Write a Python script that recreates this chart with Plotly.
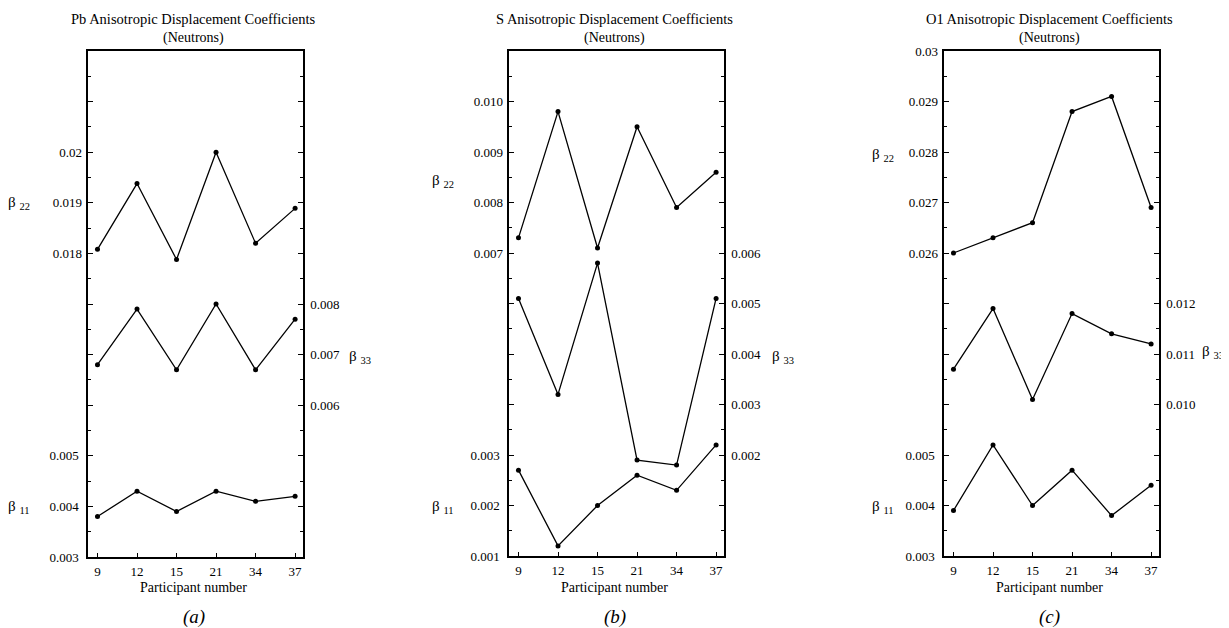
import plotly.graph_objects as go

participants = ["9", "12", "15", "21", "34", "37"]

# (a) Pb
pb_b22 = [0.01808, 0.01938, 0.01788, 0.0200, 0.0182, 0.01889]
pb_b33 = [0.0068, 0.0079, 0.0067, 0.0080, 0.0067, 0.0077]
pb_b11 = [0.0038, 0.0043, 0.0039, 0.0043, 0.0041, 0.0042]
# (b) S
s_b22 = [0.0073, 0.0098, 0.0071, 0.0095, 0.0079, 0.0086]
s_b33 = [0.0051, 0.0032, 0.0058, 0.0019, 0.0018, 0.0051]
s_b11 = [0.0027, 0.0012, 0.0020, 0.0026, 0.0023, 0.0032]
# (c) O1
o1_b22 = [0.0260, 0.0263, 0.0266, 0.0288, 0.0291, 0.0269]
o1_b33 = [0.0107, 0.0119, 0.0101, 0.0118, 0.0114, 0.0112]
o1_b11 = [0.0039, 0.0052, 0.0040, 0.0047, 0.0038, 0.0044]

# tick labels
pb_low_vals, pb_low_text = [0.003, 0.004, 0.005], ["0.003", "0.004", "0.005"]
pb_high_vals, pb_high_text = [0.018, 0.019, 0.020], ["0.018", "0.019", "0.02"]
pb_right_vals, pb_right_text = [0.006, 0.007, 0.008], ["0.006", "0.007", "0.008"]
s_low_vals, s_low_text = [0.001, 0.002, 0.003], ["0.001", "0.002", "0.003"]
s_high_vals, s_high_text = [0.007, 0.008, 0.009, 0.010], ["0.007", "0.008", "0.009", "0.010"]
s_right_vals, s_right_text = [0.002, 0.003, 0.004, 0.005, 0.006], ["0.002", "0.003", "0.004", "0.005", "0.006"]
o1_low_vals, o1_low_text = [0.003, 0.004, 0.005], ["0.003", "0.004", "0.005"]
o1_high_vals, o1_high_text = [0.026, 0.027, 0.028, 0.029, 0.030], ["0.026", "0.027", "0.028", "0.029", "0.03"]
o1_right_vals, o1_right_text = [0.010, 0.011, 0.012], ["0.010", "0.011", "0.012"]

titles = ["Pb Anisotropic Displacement Coefficients",
          "S Anisotropic Displacement Coefficients",
          "O1 Anisotropic Displacement Coefficients"]
panel_letters = ["(a)", "(b)", "(c)"]

OFF = 8  # page body margin
W, H = 1229 - OFF, 628 - OFF
FONT = "Liberation Serif"

panels = [
    dict(data=(pb_b11, pb_b22, pb_b33), x0=88, x1=303, y0=51, y1=557,
         low=(0.003, pb_low_vals, pb_low_text), high=(0.012, pb_high_vals, pb_high_text),
         right=(0.003, pb_right_vals, pb_right_text), b22y=203, b11y=507, b33x=360, b33y=357, b22x=19),
    dict(data=(s_b11, s_b22, s_b33), x0=509, x1=724, y0=51, y1=556,
         low=(0.001, s_low_vals, s_low_text), high=(0.001, s_high_vals, s_high_text),
         right=(0.000, s_right_vals, s_right_text), b22y=181, b11y=507, b33x=783, b33y=357, b22x=443),
    dict(data=(o1_b11, o1_b22, o1_b33), x0=944, x1=1159, y0=51, y1=556,
         low=(0.003, o1_low_vals, o1_low_text), high=(0.020, o1_high_vals, o1_high_text),
         right=(0.007, o1_right_vals, o1_right_text), b22y=155, b11y=507, b33x=1213, b33y=352, b22x=883),
]

def px(x):
    return (x - OFF) / W

def py(y):
    return 1 - (y - OFF) / H

fig = go.Figure()
layout = {}
annotations = []
tickfont = dict(family=FONT, size=13, color="black")

def full_ticks(r0, vals, texts):
    allv = [round(r0 + k * 0.001, 4) for k in range(11)]
    lab = {round(v, 4): t for v, t in zip(vals, texts)}
    return allv, [lab.get(v, "") for v in allv]

def ann(x, y, text, size, **kw):
    d = dict(x=px(x), y=py(y), xref="paper", yref="paper", text=text, showarrow=False,
             xanchor="center", yanchor="middle", font=dict(family=FONT, size=size, color="black"))
    d.update(kw)
    return d

for i, p in enumerate(panels):
    xa = "x" if i == 0 else f"x{i+1}"
    ybase = 3 * i + 1
    ya = [f"y{ybase}" if ybase > 1 else "y", f"y{ybase+1}", f"y{ybase+2}"]
    b11, b22, b33 = p["data"]
    for yname, vals in zip(ya, (b11, b22, b33)):
        fig.add_trace(go.Scatter(x=participants, y=vals, xaxis=xa, yaxis=yname,
                                 mode="lines+markers", line=dict(color="black", width=1.3),
                                 marker=dict(color="black", size=5), showlegend=False,
                                 cliponaxis=False))
    dx = [px(p["x0"]), px(p["x1"])]
    dy = [py(p["y1"]), py(p["y0"])]
    xkey = "xaxis" if i == 0 else f"xaxis{i+1}"
    layout[xkey] = dict(domain=dx, anchor=ya[0], type="category", range=[-0.24, 5.2],
                        showline=True, linecolor="black", linewidth=1.5, mirror=True,
                        ticks="inside", ticklen=4, tickcolor="black", showgrid=False,
                        tickfont=tickfont, zeroline=False, automargin=False,
                        ticklabelstandoff=2)
    lowr0, lowv, lowt = p["low"]
    allv, allt = full_ticks(lowr0, lowv, lowt)
    k1 = "yaxis" if ybase == 1 else f"yaxis{ybase}"
    layout[k1] = dict(domain=dy, anchor=xa, range=[lowr0, lowr0 + 0.010], tickmode="array",
                      tickvals=allv, ticktext=allt, ticks="inside", ticklen=5, tickcolor="black",
                      minor=dict(tickmode="linear", tick0=lowr0, dtick=0.0005, ticks="inside",
                                 ticklen=3, tickcolor="black"),
                      showline=True, linecolor="black", linewidth=1.5, showgrid=False,
                      zeroline=False, tickfont=tickfont, automargin=False,
                      ticklabelstandoff=5)
    hr0, hv, ht = p["high"]
    layout[f"yaxis{ybase+1}"] = dict(overlaying=ya[0], anchor=xa, side="left",
                                     range=[hr0, hr0 + 0.010], tickmode="array", tickvals=hv,
                                     ticktext=ht, ticks="inside", ticklen=5, tickcolor="black",
                                     showline=False, showgrid=False, zeroline=False,
                                     tickfont=tickfont, automargin=False,
                                     ticklabelstandoff=5)
    rr0, rv, rt = p["right"]
    allv, allt = full_ticks(rr0, rv, rt)
    layout[f"yaxis{ybase+2}"] = dict(overlaying=ya[0], anchor=xa, side="right",
                                     range=[rr0, rr0 + 0.010], tickmode="array", tickvals=allv,
                                     ticktext=allt, ticks="inside", ticklen=5, tickcolor="black",
                                     minor=dict(tickmode="linear", tick0=rr0, dtick=0.0005,
                                                ticks="inside", ticklen=3, tickcolor="black"),
                                     showline=True, linecolor="black", linewidth=1.5,
                                     showgrid=False, zeroline=False, tickfont=tickfont,
                                     automargin=False, ticklabelstandoff=3)
    cx = (p["x0"] + p["x1"]) / 2 - 2
    annotations.append(ann(cx, 19, titles[i], 14.5))
    annotations.append(ann(cx, 38, "(Neutrons)", 14))
    annotations.append(ann(cx, 587, "Participant number", 14))
    annotations.append(ann(cx, 617, "<i>" + panel_letters[i] + "</i>", 19))
    annotations.append(ann(p["b22x"], p["b22y"], "β <sub>22</sub>", 15))
    annotations.append(ann(p["b22x"], p["b11y"], "β <sub>11</sub>", 15))
    annotations.append(ann(p["b33x"], p["b33y"], "β <sub>33</sub>", 15))

fig.update_layout(**layout)
fig.update_layout(template="none", width=W, height=H, margin=dict(l=0, r=0, t=0, b=0),
                  paper_bgcolor="white", plot_bgcolor="white", annotations=annotations,
                  font=dict(family=FONT, color="black"))
fig.write_html("out.html")
